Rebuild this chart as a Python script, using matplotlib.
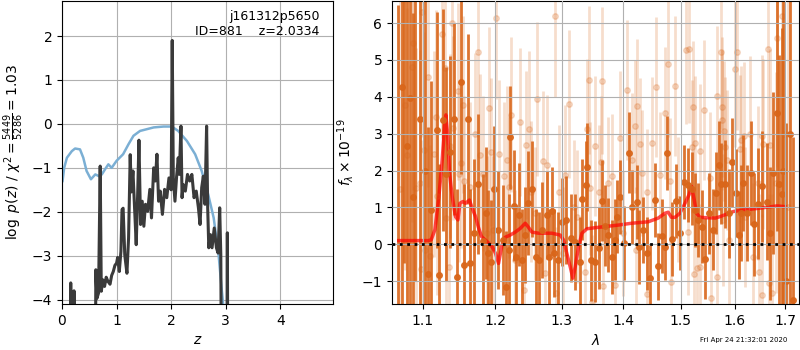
import numpy as np
import matplotlib
matplotlib.use('Agg')
import matplotlib.pyplot as plt
from matplotlib.ticker import ScalarFormatter, NullLocator

# ---- p(z) panel ----
chi_z = [0.01, 0.04, 0.09, 0.18, 0.24, 0.33, 0.39, 0.45, 0.53, 0.61, 0.68, 0.73, 0.79, 0.85,
         0.91, 1.00, 1.12, 1.22, 1.31, 1.43, 1.68, 1.86, 2.01, 2.13, 2.29, 2.44, 2.56, 2.68,
         2.78, 2.87, 2.93, 2.96, 3.00]
chi_v = [-1.30, -1.00, -0.77, -0.62, -0.56, -0.58, -0.77, -1.07, -1.26, -1.15, -1.19, -1.15, -1.03, -0.92,
         -1.00, -0.84, -0.69, -0.46, -0.27, -0.16, -0.08, -0.06, -0.06, -0.16, -0.39, -0.69, -1.07, -1.61,
         -2.14, -2.98, -3.81, -4.19, -5.0]

pz_z = [0.00, 0.14, 0.16, 0.18, 0.21, 0.22, 0.24, 0.60, 0.62, 0.64,
        0.67, 0.70, 0.72, 0.75, 0.78, 0.81, 0.84, 0.88, 0.91, 0.94,
        0.97, 1.00, 1.02, 1.05, 1.08, 1.10, 1.12, 1.15, 1.19, 1.22,
        1.25, 1.27, 1.30, 1.33, 1.36, 1.39, 1.41, 1.44, 1.47, 1.50,
        1.53, 1.57, 1.61, 1.64, 1.68, 1.71, 1.74, 1.77, 1.80, 1.84,
        1.88, 1.92, 1.96, 2.00, 2.02, 2.04, 2.07, 2.10, 2.13, 2.15,
        2.18, 2.20, 2.22, 2.26, 2.30, 2.34, 2.38, 2.42, 2.46, 2.50,
        2.53, 2.56, 2.59, 2.62, 2.65, 2.67, 2.69, 2.72, 2.75, 2.79,
        2.83, 2.86, 2.89, 2.91, 2.94, 3.01, 3.03, 3.05, 4.97]
pz_v = [-10, -10, -3.62, -10, -10, -3.80, -10, -10, -3.32, -3.97,
        -3.85, -0.96, -3.81, -3.55, -3.70, -3.49, -3.58, -3.65, -3.45, -3.36,
        -3.22, -3.17, -3.04, -3.36, -2.90, -1.95, -1.92, -2.98, -3.40, -2.60,
        -0.70, -1.55, -1.07, -1.91, -2.75, -1.45, -0.37, -2.29, -1.76, -2.33,
        -1.83, -1.99, -1.49, -2.14, -1.00, -1.30, -0.69, -1.76, -1.53, -2.06,
        -1.49, -1.68, -1.23, -1.50, 1.90, -1.23, -1.76, -1.20, -0.77, -1.15,
        -0.05, -1.68, -1.38, -1.53, -1.15, -1.30, -1.15, -1.68, -1.53, -1.91,
        -2.29, -1.45, -1.19, -1.83, -0.05, -1.91, -2.82, -2.52, -2.82, -2.37,
        -2.82, -2.94, -1.91, -2.98, -10, -10, -2.48, -10, -10]

# ---- spectrum panel ----
dark_wave = [1.0680, 1.0726, 1.0760, 1.0791, 1.0830, 1.0869, 1.0900, 1.0970, 1.1030, 1.1075,
             1.1119, 1.1186, 1.1226, 1.1267, 1.1320, 1.1370, 1.1417, 1.1458, 1.1526, 1.1568,
             1.1615, 1.1643, 1.1699, 1.1755, 1.1826, 1.1877, 1.1906, 1.1949, 1.1989, 1.2042,
             1.2109, 1.2159, 1.2197, 1.2221, 1.2270, 1.2310, 1.2354, 1.2394, 1.2443, 1.2484,
             1.2544, 1.2605, 1.2644, 1.2696, 1.2766, 1.2807, 1.2848, 1.2888, 1.2941, 1.3000,
             1.3066, 1.3150, 1.3213, 1.3292, 1.3329, 1.3384, 1.3409, 1.3469, 1.3534, 1.3588,
             1.3637, 1.3700, 1.3747, 1.3813, 1.3858, 1.3901, 1.3951, 1.4013, 1.4086, 1.4137,
             1.4222, 1.4273, 1.4337, 1.4394, 1.4463, 1.4539, 1.4597, 1.4667, 1.4715, 1.4750,
             1.4845, 1.4904, 1.4983, 1.5055, 1.5121, 1.5194, 1.5256, 1.5304, 1.5377, 1.5445,
             1.5507, 1.5589, 1.5651, 1.5694, 1.5744, 1.5820, 1.5896, 1.5953, 1.6030, 1.6082,
             1.6126, 1.6171, 1.6236, 1.6320, 1.6384, 1.6460, 1.6537, 1.6630, 1.6697, 1.6763,
             1.6831, 1.6883, 1.6932, 1.6960, 1.7010, 1.7100, 1.7160]
dark_flux = [-2.50, 4.27, 7.50, 2.67, 3.96, 1.28, 8.00, 3.41, 2.00, -0.81,
             0.93, 3.10, -0.82, 3.37, 1.90, 2.50, 3.40, -0.89, 4.41, -0.56,
             3.40, -0.50, 0.30, 1.64, 0.10, 0.85, -0.24, -0.49, 1.51, 0.39,
             0.12, -1.15, -0.15, 2.90, 1.05, -0.34, 0.80, -0.43, 0.25, 1.12,
             1.50, -0.35, -0.43, 0.39, 0.80, -0.34, 0.90, -0.24, -0.43, 0.60,
             0.66, 0.17, 0.07, -0.47, 1.22, 1.61, 2.10, -0.43, -0.47, -0.10,
             1.18, 0.50, 0.25, -0.34, 0.12, 0.75, 1.28, 0.03, 2.48, 1.02,
             1.15, -0.07, 0.39, -0.25, -0.91, 1.20, -0.60, 0.23, -0.08, 2.48,
             0.14, 1.18, 0.30, 1.69, 1.61, 1.51, 0.93, 0.66, 0.48, -0.39,
             0.84, 0.39, 1.39, 2.14, 1.64, 1.63, 0.84, 2.22, 1.39, 0.25,
             0.84, 1.66, 0.84, 1.93, 0.54, 1.10, 1.57, 1.16, 0.30, 1.93,
             3.56, 1.64, 1.37, 2.00, -1.00, 3.00, -1.50]
dark_err = [9.0, 6.0, 8.0, 5.5, 6.0, 5.0, 9.0, 5.5, 6.5, 4.0,
            3.5, 3.2, 3.0, 3.0, 2.9, 2.6, 2.6, 2.4, 2.5, 2.2,
            2.3, 2.0, 2.0, 1.9, 1.8, 1.8, 1.7, 1.7, 1.7, 1.6,
            1.5, 1.5, 1.5, 1.4, 1.5, 1.4, 1.4, 1.4, 1.3, 1.4,
            1.3, 1.3, 1.3, 1.3, 1.2, 1.3, 1.2, 1.2, 1.3, 1.2,
            1.2, 1.2, 1.3, 1.2, 1.1, 1.2, 1.2, 1.1, 1.1, 1.1,
            1.1, 1.1, 1.0, 1.0, 1.1, 1.0, 1.0, 1.0, 1.1, 1.0,
            1.0, 1.0, 0.9, 1.0, 0.9, 1.0, 0.9, 1.0, 0.9, 1.0,
            1.0, 1.0, 1.0, 1.0, 1.0, 1.0, 1.0, 1.0, 1.0, 1.1,
            1.1, 1.1, 1.1, 1.2, 1.1, 1.2, 1.2, 1.2, 1.2, 1.2,
            1.3, 1.3, 1.3, 1.4, 1.4, 1.5, 1.5, 1.6, 1.8, 2.2,
            3.2, 3.5, 4.5, 6.0, 4.3, 6.0, 4.4]

light_wave = [1.0700, 1.0770, 1.0791, 1.0856, 1.0878, 1.0917, 1.0961, 1.0974, 1.0996, 1.1018,
              1.1029, 1.1075, 1.1093, 1.1151, 1.1173, 1.1186, 1.1263, 1.1307, 1.1317, 1.1353,
              1.1375, 1.1399, 1.1412, 1.1481, 1.1491, 1.1523, 1.1546, 1.1557, 1.1643, 1.1722,
              1.1764, 1.1784, 1.1826, 1.1888, 1.1912, 1.1949, 1.1969, 1.2017, 1.2051, 1.2124,
              1.2173, 1.2197, 1.2236, 1.2295, 1.2359, 1.2418, 1.2454, 1.2493, 1.2533, 1.2583,
              1.2628, 1.2719, 1.2745, 1.2771, 1.2899, 1.2915, 1.2951, 1.3028, 1.3055, 1.3107,
              1.3192, 1.3240, 1.3372, 1.3400, 1.3426, 1.3453, 1.3480, 1.3523, 1.3588, 1.3627,
              1.3648, 1.3656, 1.3747, 1.3802, 1.3858, 1.3942, 1.3985, 1.4064, 1.4137, 1.4195,
              1.4209, 1.4234, 1.4280, 1.4308, 1.4394, 1.4406, 1.4492, 1.4567, 1.4627, 1.4725,
              1.4773, 1.4803, 1.4818, 1.4903, 1.4952, 1.5084, 1.5133, 1.5145, 1.5194, 1.5225,
              1.5234, 1.5250, 1.5286, 1.5348, 1.5352, 1.5414, 1.5537, 1.5547, 1.5663, 1.5674,
              1.5738, 1.5753, 1.5768, 1.5787, 1.5806, 1.5820, 1.5852, 1.5883, 1.5998, 1.6044,
              1.6107, 1.6121, 1.6184, 1.6204, 1.6301, 1.6366, 1.6465, 1.6475, 1.6532, 1.6542,
              1.6564, 1.6664, 1.6674, 1.6697, 1.6731, 1.6818, 1.6844, 1.6932, 1.6980, 1.7050]
light_flux = [1.50, 3.79, 2.41, 4.81, 5.46, 1.52, 1.67, -0.68, 6.30, 2.56,
              -0.15, 4.54, -0.31, 2.45, 3.45, 1.32, 5.69, 4.78, 0.71, -0.61,
              2.67, 6.00, 3.16, 4.15, 1.91, 2.20, 3.79, 1.72, 1.55, 3.00,
              5.22, 2.42, 1.91, 0.30, 3.70, 2.50, 0.39, 6.14, 2.45, 1.86,
              2.29, 1.54, 3.51, -0.43, 3.31, -1.24, 2.69, 3.13, 1.43, 0.84,
              3.94, 2.27, -0.79, 2.15, 6.20, -1.33, 1.43, -0.25, 1.88, 3.80,
              1.02, 0.75, -0.74, 3.13, 4.46, 1.52, -1.56, 2.67, 1.43, 2.23,
              4.44, -1.12, 1.66, 1.84, -1.11, 2.89, 0.30, 4.19, 2.29, 3.20,
              -0.15, 3.76, 2.72, 1.93, 1.43, -1.35, 2.74, 4.27, 1.88, 3.56,
              4.90, 1.72, -1.02, 4.30, 1.22, 5.26, 0.33, 5.30, 2.65, 3.72,
              -0.81, 2.76, -0.63, -0.61, 2.54, 3.65, 1.79, -1.47, -0.88, 4.03,
              5.22, 3.38, 3.72, 0.66, 3.08, 2.65, 2.29, 0.12, 4.75, 5.21,
              2.58, 2.83, 2.94, 0.75, 3.00, -0.34, 1.66, -0.74, 2.94, -1.38,
              2.72, 5.30, -1.04, 2.70, -1.33, 1.67, 5.60, 6.18, 3.00, 1.00]
light_err = [6.0, 4.5, 4.0, 4.2, 4.0, 3.8, 3.6, 3.5, 3.4, 3.2,
             3.2, 3.0, 3.0, 2.8, 2.9, 2.7, 2.8, 2.7, 2.6, 2.6,
             2.5, 2.6, 2.5, 2.4, 2.4, 2.3, 2.4, 2.3, 2.3, 2.2,
             2.3, 2.2, 2.1, 2.1, 2.2, 2.0, 2.0, 2.2, 2.0, 2.0,
             2.0, 1.9, 2.1, 1.9, 2.0, 1.9, 2.0, 2.1, 1.9, 1.8,
             2.1, 1.9, 1.8, 1.9, 2.2, 1.8, 1.8, 1.8, 1.9, 2.0,
             1.8, 1.8, 1.8, 1.9, 2.0, 1.8, 1.8, 1.9, 1.8, 1.8,
             2.0, 1.7, 1.8, 1.7, 1.7, 1.8, 1.7, 1.9, 1.8, 1.8,
             1.7, 1.8, 1.8, 1.7, 1.7, 1.7, 1.8, 1.9, 1.7, 1.8,
             2.0, 1.7, 1.7, 1.9, 1.7, 2.0, 1.7, 2.0, 1.8, 1.8,
             1.7, 1.8, 1.7, 1.7, 1.8, 1.9, 1.8, 1.8, 1.8, 1.9,
             2.1, 1.9, 1.9, 1.8, 1.9, 1.9, 1.9, 1.8, 2.1, 2.1,
             2.0, 2.0, 2.0, 1.9, 2.1, 2.0, 2.1, 2.1, 2.2, 2.2,
             2.3, 2.6, 2.4, 2.6, 2.7, 3.0, 3.5, 4.5, 6.0, 6.5]

model_wave = [1.0690, 1.1075, 1.1115, 1.1164, 1.1218, 1.1263, 1.1294, 1.1313, 1.1335, 1.1362,
              1.1399, 1.1444, 1.1477, 1.1505, 1.1546, 1.1582, 1.1637, 1.1676, 1.1722, 1.1760,
              1.1807, 1.1888, 1.1960, 1.2008, 1.2051, 1.2100, 1.2148, 1.2221, 1.2295, 1.2369,
              1.2443, 1.2484, 1.2544, 1.2644, 1.2848, 1.2977, 1.3028, 1.3081, 1.3134, 1.3176,
              1.3213, 1.3266, 1.3320, 1.3400, 1.3534, 1.3913, 1.4137, 1.4424, 1.4597, 1.4715,
              1.4773, 1.4832, 1.4893, 1.4983, 1.5074, 1.5147, 1.5194, 1.5243, 1.5286, 1.5348,
              1.5632, 1.5725, 1.5979, 1.6171, 1.6498, 1.6831, 1.7000]
model_flux = [0.10, 0.10, 0.12, 0.39, 1.29, 2.29, 3.20, 3.51, 3.02, 1.93,
              1.29, 0.75, 0.66, 1.11, 1.16, 1.11, 1.20, 0.98, 0.75, 0.48,
              0.21, 0.07, -0.07, -0.25, -0.52, -0.02, 0.19, 0.25, 0.33, 0.43,
              0.57, 0.48, 0.33, 0.30, 0.30, 0.25, 0.12, -0.25, -0.61, -0.92,
              -0.61, -0.07, 0.30, 0.42, 0.45, 0.52, 0.57, 0.61, 0.71, 0.84,
              0.87, 0.73, 0.73, 0.84, 1.11, 1.34, 1.57, 1.20, 0.84, 0.73,
              0.71, 0.75, 0.89, 0.93, 0.98, 1.04, 1.02]

orange = '#d9661a'

fig = plt.figure(figsize=(8, 3.5), dpi=100)
ax1 = fig.add_axes([0.0775, 0.1314, 0.339, 0.866])
ax2 = fig.add_axes([0.49, 0.1314, 0.509, 0.866])

# left: chi2 curve and log p(z)
ax1.plot(chi_z, chi_v, color='#7bafd4', lw=1.8)
ax1.plot(pz_z, pz_v, color='#3a3a3a', lw=2.2)
ax1.set_xlim(0, 4.97)
ax1.set_ylim(-4.1, 2.8)
ax1.set_xticks([0, 1, 2, 3, 4])
ax1.set_yticks([-4, -3, -2, -1, 0, 1, 2])
ax1.grid(True)
ax1.set_xlabel(r'$z$')
ax1.set_ylabel(r'$\log\ p(z)$' + ' / ' + r'$\chi^2=\frac{5449}{5286}=1.03$')
ax1.text(0.95, 0.97, 'j161312p5650\nID=881    z=2.0334', transform=ax1.transAxes,
         ha='right', va='top', fontsize=9)

# right: spectrum
ax2.errorbar(light_wave, light_flux, light_err, marker='o', ms=4, linestyle='None',
             color=orange, alpha=0.22, elinewidth=2)
ax2.errorbar(dark_wave, dark_flux, dark_err, marker='o', ms=4, linestyle='None',
             color=orange, alpha=0.9, elinewidth=2)
ax2.plot(model_wave, model_flux, color='r', alpha=0.7, lw=2.5)
ax2.axhline(0, color='k', linestyle=':', lw=2, zorder=4)

ax2.set_xscale('log')
ax2.set_xlim(1.0604, 1.729)
ax2.set_ylim(-1.62, 6.6)
ax2.set_xticks([1.1, 1.2, 1.3, 1.4, 1.5, 1.6, 1.7])
ax2.xaxis.set_major_formatter(ScalarFormatter())
ax2.xaxis.set_minor_locator(NullLocator())
ax2.set_yticks([-1, 0, 1, 2, 3, 4, 5, 6])
ax2.set_axisbelow(False)
ax2.grid(True)
ax2.set_xlabel(r'$\lambda$')
ax2.set_ylabel(r'$f_\lambda\times10^{-19}$')

fig.text(0.93, 0.028, 'Fri Apr 24 21:32:01 2020', ha='center', va='center', fontsize=5)

fig.savefig('out.png', dpi=100)
